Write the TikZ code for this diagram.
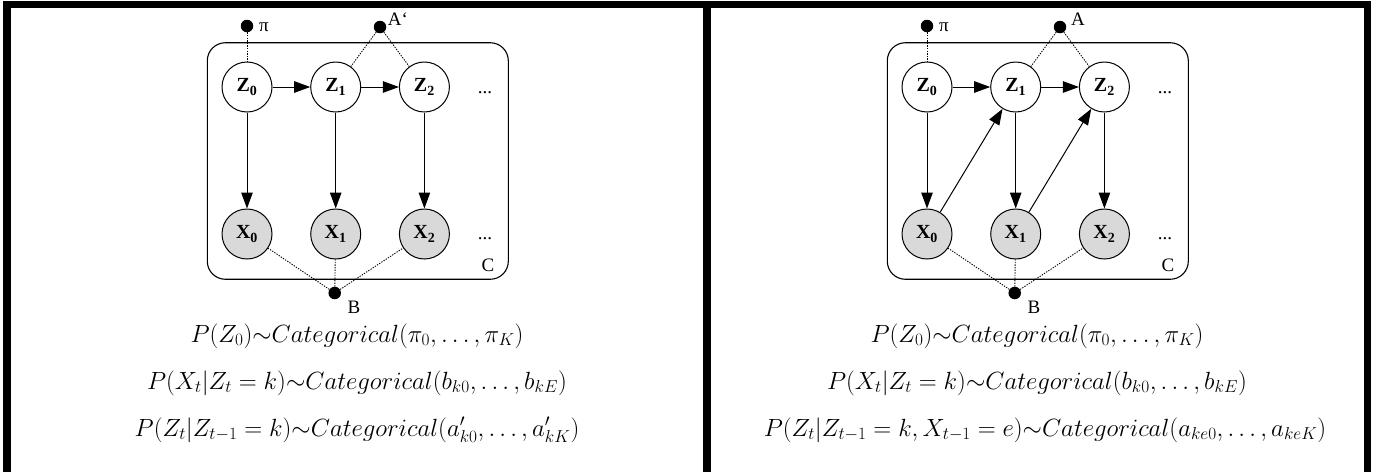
\documentclass[tikz,border=0pt]{standalone}
\usepackage{fontspec}
\setmainfont{Liberation Serif}
\usepackage{tikz}
\usetikzlibrary{shapes.geometric, arrows.meta, positioning}

\definecolor{obsgray}{RGB}{217,217,217}

\begin{document}
\begin{tikzpicture}[
  x=1pt, y=-1pt,
  node distance=96pt and 37.7pt,
  latent/.style={circle, draw=black, fill=white, line width=1pt, minimum size=50pt, inner sep=0pt, font=\fontsize{20}{22}\selectfont\bfseries},
  observed/.style={latent, fill=obsgray},
  hyper/.style={circle, fill=black, minimum size=12.5pt, inner sep=0pt},
  plate/.style={rectangle, draw=black, line width=1.1pt, rounded corners=18pt, minimum width=301pt, minimum height=236.5pt},
  lbl/.style={inner sep=0pt, font=\fontsize{19}{21}\selectfont},
  eqn/.style={inner sep=0pt, anchor=base, font=\fontsize{25}{29}\selectfont},
  arrow/.style={line width=1pt, -{Triangle[length=16pt,width=11.5pt]}},
  dotline/.style={line width=0.9pt, dash pattern=on 1.3pt off 1.3pt}
]
\useasboundingbox (0,0) rectangle (1380,472);

% Frame
\draw [line width=7.5pt] (7,472) -- (7,4.5) -- (1367.5,4.5) -- (1367.5,472);
\draw [line width=8pt] (707,4.5) -- (707,472);

% Left panel: plate and chain
\node (lplate) [plate] at (357.8,161) {};
\node (lz0) [latent] at (247,87) {Z\textsubscript{0}};
\node (lz1) [latent, right=of lz0] {Z\textsubscript{1}};
\node (lz2) [latent, right=of lz1] {Z\textsubscript{2}};
\node (lx0) [observed, below=of lz0] {X\textsubscript{0}};
\node (lx1) [observed, below=of lz1] {X\textsubscript{1}};
\node (lx2) [observed, below=of lz2] {X\textsubscript{2}};
\node (lzdots) [lbl, anchor=base] at (485,93) {...};
\node (lxdots) [lbl, anchor=base] at (485,239) {...};
\node (lc) [lbl] at (488,265) {C};

% Left panel: parameters
\node (lpi) [hyper] at (247,26) {};
\node (la) [hyper] at (380,27) {};
\node (lb) [hyper] at (334.7,293) {};
\node (lpilab) [lbl] at (264,27) {π};
\node (lalab) [lbl] at (398,19) {A‘};
\node (lblab) [lbl] at (354,307) {B};

% Left panel: arrows
\draw [arrow] (lz0) -- (lz1);
\draw [arrow] (lz1) -- (lz2);
\draw [arrow] (lz0) -- (lx0);
\draw [arrow] (lz1) -- (lx1);
\draw [arrow] (lz2) -- (lx2);
\draw [dotline] (lpi) -- (lz0);
\draw [dotline] (la) -- (lz1);
\draw [dotline] (la) -- (lz2);
\draw [dotline] (lb) -- (lx0);
\draw [dotline] (lb) -- (lx1);
\draw [dotline] (lb) -- (lx2);

% Left panel: distributions
\node (leq1) [eqn] at (357,342) {$P(Z_0){\sim}Categorical(\pi_0,\ldots,\pi_K)$};
\node (leq2) [eqn] at (357,389) {$P(X_t|Z_t=k){\sim}Categorical(b_{k0},\ldots,b_{kE})$};
\node (leq3) [eqn] at (357,436) {$P(Z_t|Z_{t-1}=k){\sim}Categorical(a'_{k0},\ldots,a'_{kK})$};

% Right panel: plate and chain
\node (rplate) [plate] at (1037.8,161) {};
\node (rz0) [latent] at (927,87) {Z\textsubscript{0}};
\node (rz1) [latent, right=of rz0] {Z\textsubscript{1}};
\node (rz2) [latent, right=of rz1] {Z\textsubscript{2}};
\node (rx0) [observed, below=of rz0] {X\textsubscript{0}};
\node (rx1) [observed, below=of rz1] {X\textsubscript{1}};
\node (rx2) [observed, below=of rz2] {X\textsubscript{2}};
\node (rzdots) [lbl, anchor=base] at (1165,93) {...};
\node (rxdots) [lbl, anchor=base] at (1165,239) {...};
\node (rc) [lbl] at (1168,265) {C};

% Right panel: parameters
\node (rpi) [hyper] at (927,26) {};
\node (ra) [hyper] at (1060,27) {};
\node (rb) [hyper] at (1014.7,293) {};
\node (rpilab) [lbl] at (944,27) {π};
\node (ralab) [lbl] at (1078,19) {A};
\node (rblab) [lbl] at (1034,307) {B};

% Right panel: arrows
\draw [arrow] (rz0) -- (rz1);
\draw [arrow] (rz1) -- (rz2);
\draw [arrow] (rz0) -- (rx0);
\draw [arrow] (rz1) -- (rx1);
\draw [arrow] (rz2) -- (rx2);
\draw [arrow] (rx0) -- (rz1);
\draw [arrow] (rx1) -- (rz2);
\draw [dotline] (rpi) -- (rz0);
\draw [dotline] (ra) -- (rz1);
\draw [dotline] (ra) -- (rz2);
\draw [dotline] (rb) -- (rx0);
\draw [dotline] (rb) -- (rx1);
\draw [dotline] (rb) -- (rx2);

% Right panel: distributions
\node (req1) [eqn] at (1037,342) {$P(Z_0){\sim}Categorical(\pi_0,\ldots,\pi_K)$};
\node (req2) [eqn] at (1037,389) {$P(X_t|Z_t=k){\sim}Categorical(b_{k0},\ldots,b_{kE})$};
\node (req3) [eqn] at (1045,436) {$P(Z_t|Z_{t-1}=k,X_{t-1}=e){\sim}Categorical(a_{ke0},\ldots,a_{keK})$};

\end{tikzpicture}
\end{document}
